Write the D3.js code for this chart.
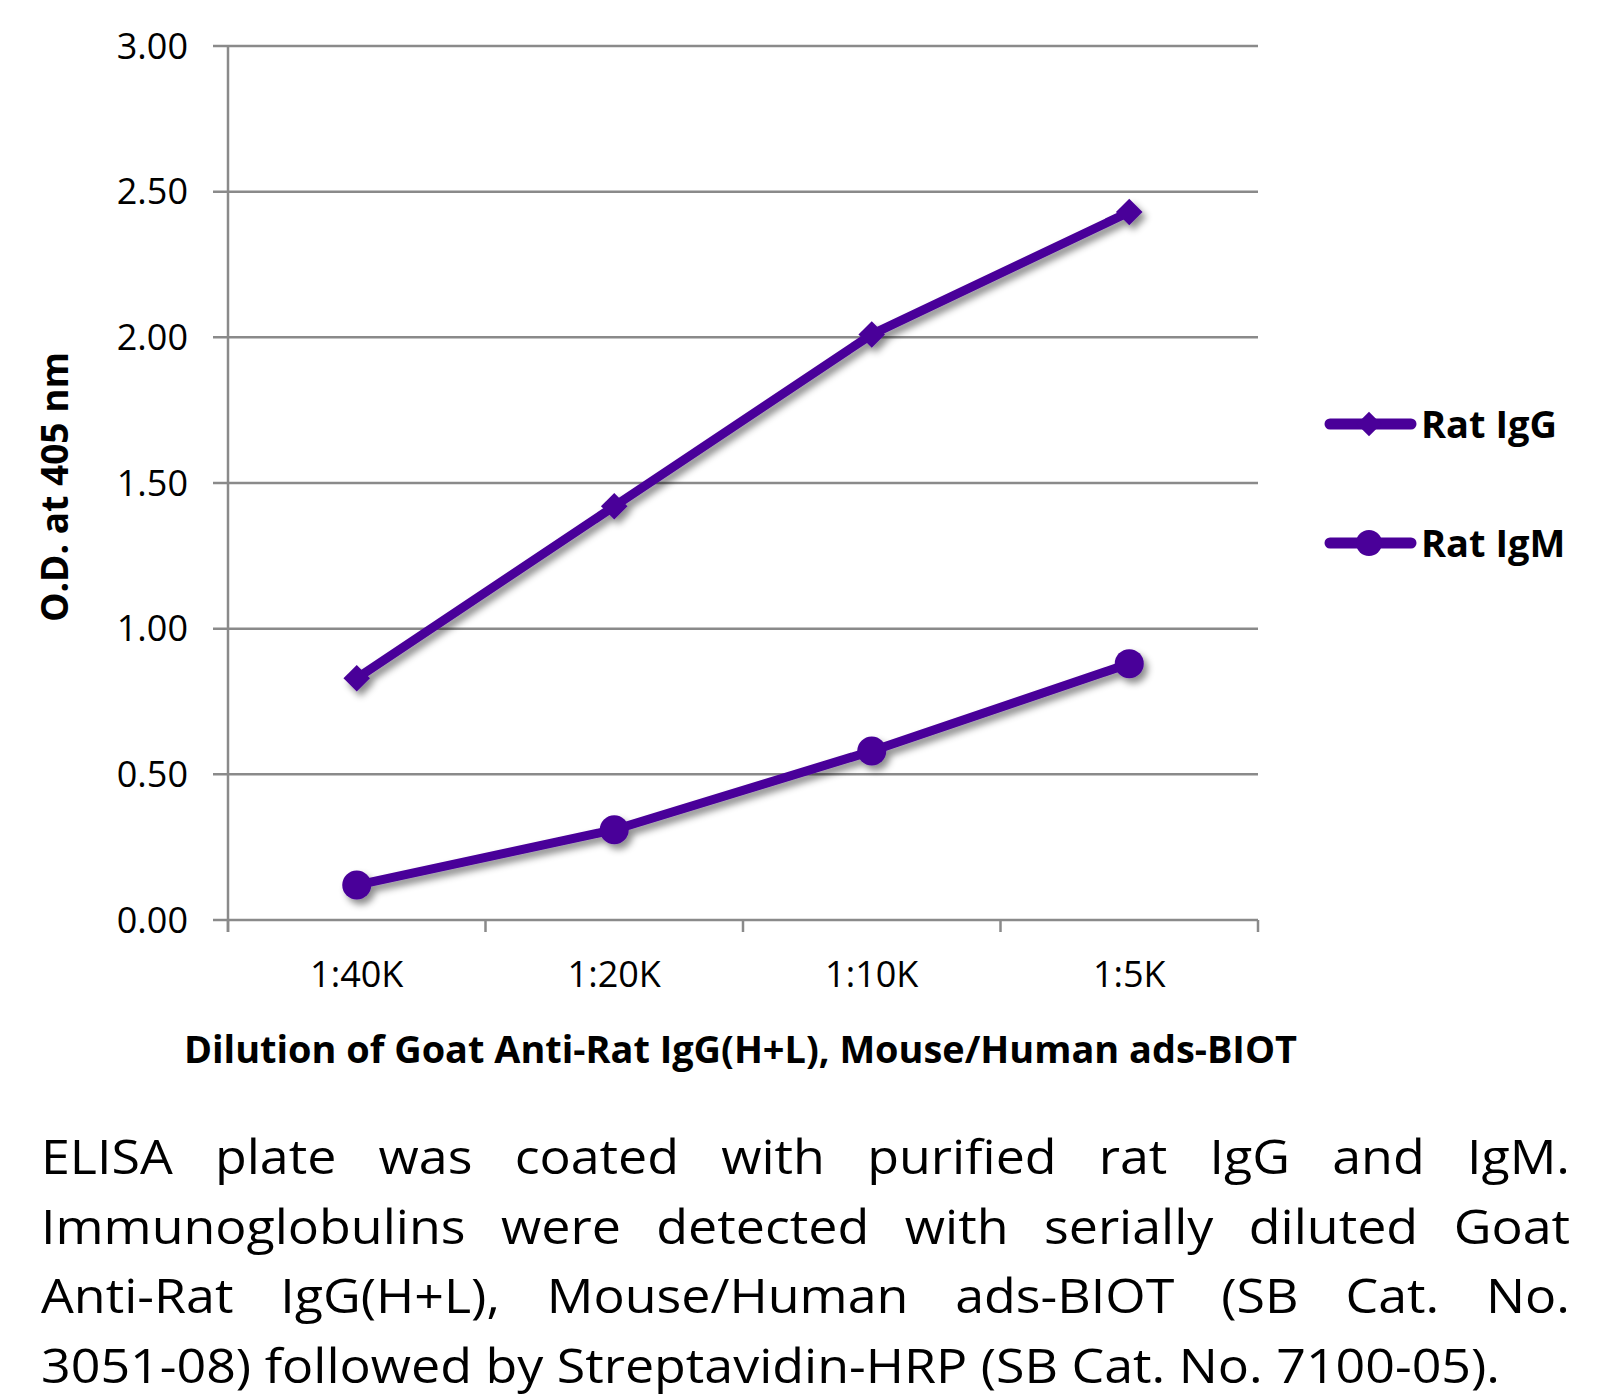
<!DOCTYPE html>
<html>
<head>
<meta charset="utf-8">
<script src="https://cdn.jsdelivr.net/npm/d3@7"></script>
<style>
  html, body { margin: 0; padding: 0; background: #fff; }
  svg { display: block; }
</style>
</head>
<body>
<svg id="chart" width="1620" height="1398"></svg>
<script>
const categories = ["1:40K", "1:20K", "1:10K", "1:5K"];
const ratIgG = [0.83, 1.42, 2.01, 2.43];
const ratIgM = [0.12, 0.31, 0.58, 0.88];
const yTicks = [0, 0.5, 1.0, 1.5, 2.0, 2.5, 3.0];
const seriesNames = ["Rat IgG", "Rat IgM"];
const yTitle = "O.D. at 405 nm";
const xTitle = "Dilution of Goat Anti-Rat IgG(H+L), Mouse/Human ads-BIOT";
const captionLines = [
  "ELISA plate was coated with purified rat IgG and IgM.",
  "Immunoglobulins were detected with serially diluted Goat",
  "Anti-Rat IgG(H+L), Mouse/Human ads-BIOT (SB Cat. No.",
  "3051-08) followed by Streptavidin-HRP (SB Cat. No. 7100-05)."
];

(function () {
const purple = "#4a0099";
const gridColor = "#8a8a8a";
const font = "'Open Sans', 'DejaVu Sans', sans-serif";

const svg = d3.select("#chart");
const pLeft = 228, pRight = 1258, pTop = 46, pBottom = 920;

const x = d3.scaleBand().domain(categories).range([pLeft, pRight]).padding(0);
const y = d3.scaleLinear().domain([0, 3]).range([pBottom, pTop]);

// shadow filter
const defs = svg.append("defs");
const f = defs.append("filter").attr("id", "shadow")
  .attr("x", "-10%").attr("y", "-10%").attr("width", "130%").attr("height", "130%");
f.append("feDropShadow").attr("dx", 4).attr("dy", 5).attr("stdDeviation", 3.5)
  .attr("flood-color", "#000").attr("flood-opacity", 0.45);

// gridlines
svg.append("g").selectAll("line").data(yTicks).join("line")
  .attr("x1", pLeft - 15).attr("x2", pRight)
  .attr("y1", d => y(d)).attr("y2", d => y(d))
  .attr("stroke", gridColor).attr("stroke-width", 2.5);

// y axis line
svg.append("line").attr("x1", pLeft).attr("x2", pLeft)
  .attr("y1", y(3)).attr("y2", pBottom + 12)
  .attr("stroke", gridColor).attr("stroke-width", 2.5);

// x tick marks at band boundaries
const tickPositions = categories.map(c => x(c)).concat([x(categories[categories.length - 1]) + x.bandwidth()]);
svg.append("g").selectAll("line").data(tickPositions).join("line")
  .attr("x1", d => d).attr("x2", d => d)
  .attr("y1", pBottom).attr("y2", pBottom + 12)
  .attr("stroke", gridColor).attr("stroke-width", 2.5);

// y tick labels
svg.append("g").selectAll("text").data(yTicks).join("text")
  .attr("x", 188).attr("y", d => y(d) + 12.5)
  .attr("text-anchor", "end")
  .attr("font-family", font).attr("font-size", 36).attr("fill", "#000")
  .text(d => d3.format(".2f")(d));

// x tick labels
svg.append("g").selectAll("text").data(categories).join("text")
  .attr("x", d => x(d) + x.bandwidth() / 2).attr("y", 987)
  .attr("text-anchor", "middle")
  .attr("font-family", font).attr("font-size", 36).attr("fill", "#000")
  .text(d => d);

// axis titles
svg.append("text")
  .attr("transform", "translate(68,487) rotate(-90)")
  .attr("text-anchor", "middle")
  .attr("font-family", font).attr("font-size", 37).attr("font-weight", "bold")
  .attr("textLength", 270).attr("lengthAdjust", "spacingAndGlyphs")
  .text(yTitle);

svg.append("text")
  .attr("x", 184).attr("y", 1063)
  .attr("font-family", font).attr("font-size", 38).attr("font-weight", "bold")
  .attr("textLength", 1113).attr("lengthAdjust", "spacingAndGlyphs")
  .text(xTitle);

// series
const line = d3.line().x((d, i) => x(categories[i]) + x.bandwidth() / 2).y(d => y(d));
const plot = svg.append("g").attr("filter", "url(#shadow)");

plot.append("path").datum(ratIgG).attr("d", line)
  .attr("fill", "none").attr("stroke", purple).attr("stroke-width", 9)
  .attr("stroke-linejoin", "round");
plot.append("path").datum(ratIgM).attr("d", line)
  .attr("fill", "none").attr("stroke", purple).attr("stroke-width", 9)
  .attr("stroke-linejoin", "round");

const diamond = d3.symbol().type(d3.symbolDiamond2).size(450);
plot.append("g").selectAll("path").data(ratIgG).join("path")
  .attr("transform", (d, i) => `translate(${x(categories[i]) + x.bandwidth() / 2},${y(d)})`)
  .attr("d", diamond).attr("fill", purple);

plot.append("g").selectAll("circle").data(ratIgM).join("circle")
  .attr("cx", (d, i) => x(categories[i]) + x.bandwidth() / 2)
  .attr("cy", d => y(d)).attr("r", 14.5).attr("fill", purple);

// legend
const legY = [424, 543];
const leg = svg.append("g");
seriesNames.forEach((name, i) => {
  const g = leg.append("g").attr("transform", `translate(0,${legY[i]})`);
  g.append("line").attr("x1", 1330).attr("x2", 1411).attr("y1", 0).attr("y2", 0)
    .attr("stroke", purple).attr("stroke-width", 11).attr("stroke-linecap", "round");
  if (i === 0) {
    g.append("path").attr("transform", "translate(1369,0)")
      .attr("d", d3.symbol().type(d3.symbolDiamond2).size(380)).attr("fill", purple);
  } else {
    g.append("circle").attr("cx", 1369).attr("cy", 0).attr("r", 13).attr("fill", purple);
  }
  g.append("text").attr("x", 1421).attr("y", 14)
    .attr("font-family", font).attr("font-size", 38).attr("font-weight", "bold")
    .text(name);
});

// caption (justified)
const capLeft = 41, capRight = 1570, lastWidth = 1459;
const capBase = [1174, 1244, 1313, 1383];
const capSize = 48;
const cap = svg.append("g");
const probe = cap.append("text").attr("font-family", font).attr("font-size", capSize)
  .text(captionLines[3]);
const scale = lastWidth / probe.node().getComputedTextLength();
probe.remove();

captionLines.forEach((ln, li) => {
  if (li === captionLines.length - 1) {
    cap.append("text").attr("x", capLeft).attr("y", capBase[li])
      .attr("font-family", font).attr("font-size", capSize)
      .attr("textLength", lastWidth).attr("lengthAdjust", "spacingAndGlyphs")
      .text(ln);
    return;
  }
  const words = ln.split(" ");
  const nodes = words.map(w => cap.append("text").attr("y", capBase[li])
    .attr("font-family", font).attr("font-size", capSize).text(w));
  const widths = nodes.map(n => n.node().getComputedTextLength() * scale);
  const total = d3.sum(widths);
  const gap = (capRight - capLeft - total) / (words.length - 1);
  let cx = capLeft;
  nodes.forEach((n, k) => {
    n.attr("x", cx).attr("textLength", widths[k]).attr("lengthAdjust", "spacingAndGlyphs");
    cx += widths[k] + gap;
  });
});
})();
</script>
</body>
</html>
